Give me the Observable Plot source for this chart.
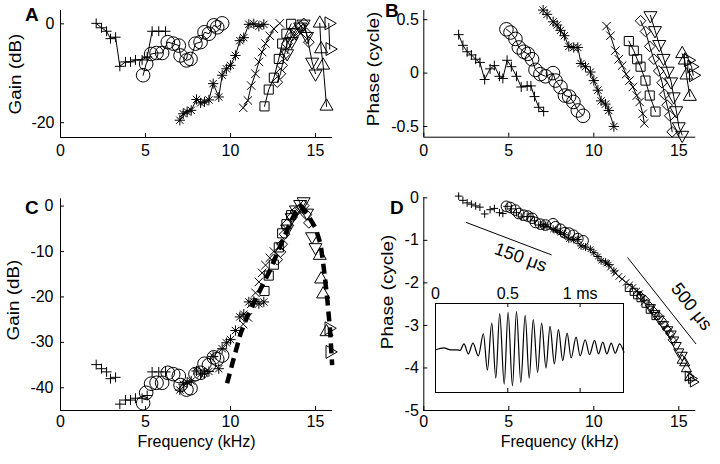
<!DOCTYPE html>
<html><head><meta charset="utf-8">
<script src="https://cdn.jsdelivr.net/npm/d3@7"></script>
<script src="https://cdn.jsdelivr.net/npm/@observablehq/plot@0.6"></script>
<style>
body{margin:0;background:#fff;}
#fig{position:relative;width:720px;height:464px;overflow:hidden;background:#fff;font-family:"Liberation Sans",Arial,Helvetica,sans-serif;}
#fig svg{position:absolute;}
.letter{position:absolute;font-weight:bold;font-size:19px;line-height:14px;color:#000;}
.ylab{position:absolute;font-size:16px;line-height:18px;white-space:nowrap;color:#000;transform:translate(-50%,-50%) rotate(-90deg) scaleX(1.18);}
</style></head><body><div id="fig"></div>
<script>
// ---------- tick labels ----------
const freqTicks = [0, 5, 10, 15];
const gainTicksA = [-20, 0];
const phaseTicksB = [-0.5, 0, 0.5];
const gainTicksC = [-40, -30, -20, -10, 0];
const phaseTicksD = [-5, -4, -3, -2, -1, 0];
const insetTicks = [0, 0.5, 1];

// ---------- panel A: gain (kHz, dB) per series ----------
const gainPlus = [[2.10,0.1],[2.41,-0.8],[2.71,-1.5],[2.94,-3.0],[3.24,-2.7],[3.49,-8.6],[3.82,-7.7],[4.12,-7.7],[4.41,-7.3],[4.80,-7.3],[5.10,-6.7],[5.39,-1.5],[5.78,-1.5],[6.18,-1.5]];
const gainCircle = [[4.86,-10.4],[5.04,-8.1],[5.33,-6.1],[5.65,-5.9],[5.98,-5.9],[6.31,-3.7],[6.63,-4.0],[6.96,-4.4],[7.06,-6.4],[7.41,-7.4],[7.65,-7.1],[7.94,-4.0],[8.24,-3.7],[8.47,-1.7],[8.73,-2.0],[9.02,-0.3],[9.22,-0.7],[9.51,0.1]];
const gainStar = [[7.02,-19.5],[7.22,-18.2],[7.45,-17.8],[7.69,-17.5],[8.0,-15.3],[8.24,-16.0],[8.47,-15.8],[8.73,-15.4],[8.98,-12.1],[9.31,-14.8],[9.51,-10.4],[9.76,-9.1],[10.0,-8.4],[10.29,-6.4],[10.55,-3.4],[10.78,-2.8],[11.08,-0.1],[11.37,0],[11.67,-0.5],[11.96,-0.1]];
const gainTimes = [[10.75,-17.0],[11.02,-15.5],[11.22,-12.5],[11.47,-10.1],[11.67,-7.7],[11.86,-5.7],[12.06,-4.0],[12.31,-2.4],[12.55,-1.0],[12.9,0.1]];
const gainSquare = [[12.0,-16.7],[12.25,-13.3],[12.55,-10.9],[12.84,-7.1],[13.04,-4.0],[13.29,-2.0],[13.57,0]];
const gainDiamond = [[12.75,-11.8],[12.94,-10.1],[13.04,-8.4],[13.18,-6.2],[13.33,-4.0],[13.63,-2.4],[13.82,-1.3],[14.12,-0.5],[14.31,0.1],[14.47,-1.9],[14.61,-3.7]];
const gainTdown = [[13.33,-6.0],[13.6,-3.5],[13.85,-1.8],[14.1,-0.6],[14.3,0],[14.5,-2.5],[14.8,-7.7],[15.0,-10.1]];
const gainTup = [[15.25,0.1],[15.33,-5.1],[15.45,-8.4],[15.65,-16.7]];
const gainTright = [[15.78,0.1],[15.84,-5.1]];

// ---------- panel B: phase (kHz, cycle) per series ----------
const phasePlus = [[2.05,0.36],[2.3,0.26],[2.55,0.2],[2.8,0.17],[3.05,0.13],[3.3,0.1],[3.58,-0.06],[3.9,0.04],[4.15,0.07],[4.45,-0.03],[4.65,-0.05],[4.9,0.12],[5.15,0.06],[5.45,-0.03],[5.73,-0.13],[6.08,-0.12],[6.3,-0.12],[6.51,-0.22],[6.76,-0.32],[7.05,-0.36]];
const phaseCircle = [[4.86,0.41],[5.1,0.38],[5.39,0.32],[5.59,0.24],[5.88,0.2],[6.12,0.18],[6.37,0.13],[6.57,0.03],[6.86,-0.01],[7.16,-0.03],[7.6,0.0],[7.75,-0.07],[8.04,-0.13],[8.3,-0.21],[8.55,-0.22],[8.8,-0.27],[9.06,-0.35],[9.37,-0.4]];
const phaseStar = [[7.02,0.59],[7.25,0.55],[7.61,0.48],[7.84,0.45],[8.04,0.40],[8.27,0.35],[8.53,0.25],[8.82,0.24],[9.06,0.24],[9.25,0.09],[9.51,0.06],[9.80,0.01],[10.0,-0.07],[10.24,-0.16],[10.43,-0.26],[10.69,-0.29],[10.88,-0.35],[11.18,-0.5]];
const phaseTimes = [[10.75,0.44],[10.98,0.35],[11.27,0.21],[11.47,0.13],[11.67,0.07],[11.9,-0.01],[12.1,-0.07],[12.3,-0.13],[12.53,-0.21],[12.7,-0.27],[12.88,-0.38],[12.97,-0.47]];
const phaseSquare = [[12.06,0.30],[12.35,0.21],[12.55,0.13],[12.75,0.06],[13.04,-0.07],[13.29,-0.21],[13.63,-0.36]];
const phaseDiamond = [[12.75,0.49],[13.04,0.39],[13.29,0.25],[13.53,0.13],[13.82,0.02],[14.02,-0.09],[14.16,-0.2],[14.31,-0.3],[14.47,-0.4],[14.61,-0.55]];
const phaseTdown = [[13.33,0.54],[13.6,0.40],[13.85,0.27],[14.1,0.14],[14.35,0.02],[14.55,-0.08],[14.7,-0.22],[14.85,-0.35],[15.0,-0.5],[15.2,-0.58]];
const phaseTup = [[15.2,0.18],[15.35,0.12],[15.45,-0.02],[15.65,-0.22]];
const phaseTright = [[15.55,0.12],[15.75,0.06],[15.85,-0.02]];

// ---------- shifts used to join the series in panels C and D ----------
const seriesKeys = ["plus","circle","star","times","square","diamond","tdown","tup","tright"];
const gainOffsets = [-35, -33, -21, -9, -2, 0, 1, -11, -27];
const phaseOffsets = [-0.32, -0.61, -1.22, -1.98, -2.42, -2.79, -3.12, -4.0, -4.31];

// ---------- panel C model (dashed) ----------
const modelFreq = [9.8,10.2,10.6,11.0,11.7,12.3,12.85,13.25,13.55,13.85,14.12,14.5,15.0,15.3,15.5,15.7,15.85,15.98];
const modelGain = [-39,-33.4,-28,-24.2,-18.8,-14.3,-9.5,-6,-3.4,-1.2,0,-1.7,-4.8,-8.4,-14,-20.7,-27,-35];

// ---------- panel D delay reference lines ----------
const ref150 = [[2.5,-0.58],[7.5,-1.34]];
const ref500 = [[12,-1.41],[16,-3.43]];
const refLabels = [{f:5.7, p:-1.40, text:"150 μs", angle:20},{f:15.75, p:-2.56, text:"500 μs", angle:52}];

// ---------- inset waveform (ms, a.u.) : extrema ----------
const waveTime = [0,0.058,0.104,0.150,0.169,0.197,0.227,0.259,0.296,0.331,0.359,0.389,0.417,0.444,0.475,0.502,0.532,0.560,0.590,0.620,0.648,0.676,0.706,0.734,0.764,0.792,0.822,0.850,0.880,0.910,0.938,0.972,1.000,1.035,1.065,1.100,1.127,1.157,1.185,1.215,1.243,1.273,1.303];
const waveAmp = [0,0.06,0,0,-0.02,0.18,-0.12,0.20,-0.18,0.48,-0.60,0.80,-0.84,1.08,-1.02,1.12,-1.07,1.14,-0.97,1.03,-0.84,0.90,-0.67,0.80,-0.54,0.70,-0.42,0.60,-0.32,0.50,-0.24,0.38,-0.18,0.30,-0.14,0.28,-0.12,0.23,-0.12,0.20,-0.10,0.18,-0.07];

// ---------- assemble ----------
const gainData = [gainPlus,gainCircle,gainStar,gainTimes,gainSquare,gainDiamond,gainTdown,gainTup,gainTright];
const phaseData = [phasePlus,phaseCircle,phaseStar,phaseTimes,phaseSquare,phaseDiamond,phaseTdown,phaseTup,phaseTright];

const markerStyle = {
  plus:{symbols:["plus"], r:3.3, rotate:0},
  circle:{symbols:["circle"], r:6.8, rotate:0},
  star:{symbols:["plus","times"], r:3.4, rotate:0},
  times:{symbols:["times"], r:3.9, rotate:0},
  square:{symbols:["square2"], r:5.8, rotate:0},
  diamond:{symbols:["diamond2"], r:4.8, rotate:0},
  tdown:{symbols:["triangle2"], r:6.2, rotate:180},
  tup:{symbols:["triangle2"], r:6.2, rotate:0},
  tright:{symbols:["triangle2"], r:6.2, rotate:90}
};
function markers(data, key, k = 1) {
  const st = markerStyle[key];
  return st.symbols.map(sym => Plot.dot(data, {x: d => d[0], y: d => d[1], symbol: sym, r: st.r * k, rotate: st.rotate, stroke: "black", fill: "none", strokeWidth: 1}));
}

const FONT = "'Liberation Sans', Arial, Helvetica, sans-serif";

function panel(o) {
  const [mt, mr, mb, ml] = o.margins;
  const W = o.width - ml - mr, H = o.height - mt - mb;
  const marks = [
    Plot.ruleX([o.xDomain[0]], {strokeWidth: 1}),
    Plot.ruleY([o.yDomain[0]], {strokeWidth: 1}),
    Plot.tickX(freqTicks, {x: d => d, insetTop: H - 4, strokeWidth: 1}),
    Plot.tickY(o.yTicks, {y: d => d, insetRight: W - 4, strokeWidth: 1}),
    Plot.axisX({ticks: freqTicks, tickSize: 0, tickPadding: o.xPad, tickFormat: d => String(d), label: null}),
    Plot.axisY({ticks: o.yTicks, tickSize: 0, tickPadding: o.yPad, tickFormat: d => String(d), label: null})
  ];
  if (o.xLabel) marks.push(Plot.text([o.xLabel], {text: d => d, frameAnchor: "bottom", dy: 36, fontSize: 16}));
  return Plot.plot({
    width: o.width, height: o.height,
    marginTop: mt, marginRight: mr, marginBottom: mb, marginLeft: ml,
    style: {fontFamily: FONT, fontSize: "16px", color: "black", background: "transparent", overflow: "visible"},
    x: {domain: o.xDomain},
    y: {domain: o.yDomain},
    marks: [...marks, ...o.marks]
  });
}

const fig = document.getElementById("fig");
function place(el, left, top) { el.style.left = left + "px"; el.style.top = top + "px"; fig.appendChild(el); }

// Panel A
const marksA = [];
gainData.forEach((d, i) => { marksA.push(Plot.line(d, {x: p => p[0], y: p => p[1], stroke: "black", strokeWidth: 1})); marksA.push(...markers(d, seriesKeys[i])); });
place(panel({width: 360, height: 160, margins: [10, 28, 23, 60], xDomain: [0, 16], yDomain: [-23, 2.7], yTicks: gainTicksA, xPad: 7, yPad: 6, marks: marksA}), 0, 0);

// Panel B
const marksB = [];
phaseData.forEach((d, i) => { marksB.push(Plot.line(d, {x: p => p[0], y: p => p[1], stroke: "black", strokeWidth: 1})); marksB.push(...markers(d, seriesKeys[i])); });
place(panel({width: 360, height: 160, margins: [10, 24.7, 23.3, 63.3], xDomain: [0, 16], yDomain: [-0.6, 0.586], yTicks: phaseTicksB, xPad: 7, yPad: 5, marks: marksB}), 360, 0);

// Panel C
const marksC = [];
gainData.forEach((d, i) => marksC.push(...markers(d.map(([f, g]) => [f, g + gainOffsets[i]]), seriesKeys[i])));
marksC.push(Plot.line(modelFreq.map((f, i) => [f, modelGain[i]]), {x: p => p[0], y: p => p[1], stroke: "black", strokeWidth: 4.5, strokeDasharray: "10,6", strokeLinecap: "butt"}));
place(panel({width: 360, height: 304, margins: [38.3, 28, 54, 60], xDomain: [0, 16], yDomain: [-45, 1.6], yTicks: gainTicksC, xPad: 5, yPad: 7, xLabel: "Frequency (kHz)", marks: marksC}), 0, 160);

// Panel D
const marksD = [];
phaseData.forEach((d, i) => marksD.push(...markers(d.map(([f, p]) => [f, p + phaseOffsets[i]]), seriesKeys[i], 0.78)));
marksD.push(Plot.line(ref150, {x: p => p[0], y: p => p[1], stroke: "black", strokeWidth: 1}));
marksD.push(Plot.line(ref500, {x: p => p[0], y: p => p[1], stroke: "black", strokeWidth: 1}));
marksD.push(Plot.text(refLabels, {x: "f", y: "p", text: "text", rotate: "angle", fontSize: 18}));
place(panel({width: 360, height: 304, margins: [37.3, 24.7, 54, 63.3], xDomain: [0, 16], yDomain: [-5, 0], yTicks: phaseTicksD, xPad: 5, yPad: 5, xLabel: "Frequency (kHz)", marks: marksD}), 360, 160);

// Inset
const inset = Plot.plot({
  width: 212, height: 113, marginTop: 20, marginRight: 12, marginBottom: 4, marginLeft: 12,
  style: {fontFamily: FONT, fontSize: "16px", color: "black", background: "transparent", overflow: "visible"},
  x: {domain: [0, 1.3]},
  y: {domain: [-1.27, 1.38], axis: null},
  marks: [
    Plot.frame({strokeWidth: 1}),
    Plot.tickX(insetTicks, {x: d => d, insetTop: 85, strokeWidth: 1}),
    Plot.tickX(insetTicks, {x: d => d, insetBottom: 85, strokeWidth: 1}),
    Plot.axisX({ticks: insetTicks, anchor: "top", tickSize: 0, tickPadding: 5, tickFormat: d => d === 1 ? "1 ms" : String(d), label: null}),
    Plot.line(waveTime.map((t, i) => [t, waveAmp[i]]), {x: p => p[0], y: p => p[1], curve: "monotone-x", stroke: "black", strokeWidth: 1.2})
  ]
});
place(inset, 423, 283);

// Y-axis titles
[["Gain (dB)", 16, 74], ["Phase (cycle)", 374, 69], ["Gain (dB)", 14, 300], ["Phase (cycle)", 388, 292]].forEach(([t, x, y]) => {
  const d = document.createElement("div");
  d.className = "ylab"; d.textContent = t; d.style.left = x + "px"; d.style.top = y + "px";
  fig.appendChild(d);
});

// Panel letters
[["A", 25, 8], ["B", 385, 4], ["C", 25, 201], ["D", 390, 201]].forEach(([t, x, y]) => {
  const d = document.createElement("div");
  d.className = "letter"; d.textContent = t; d.style.left = x + "px"; d.style.top = y + "px";
  fig.appendChild(d);
});
</script></body></html>
